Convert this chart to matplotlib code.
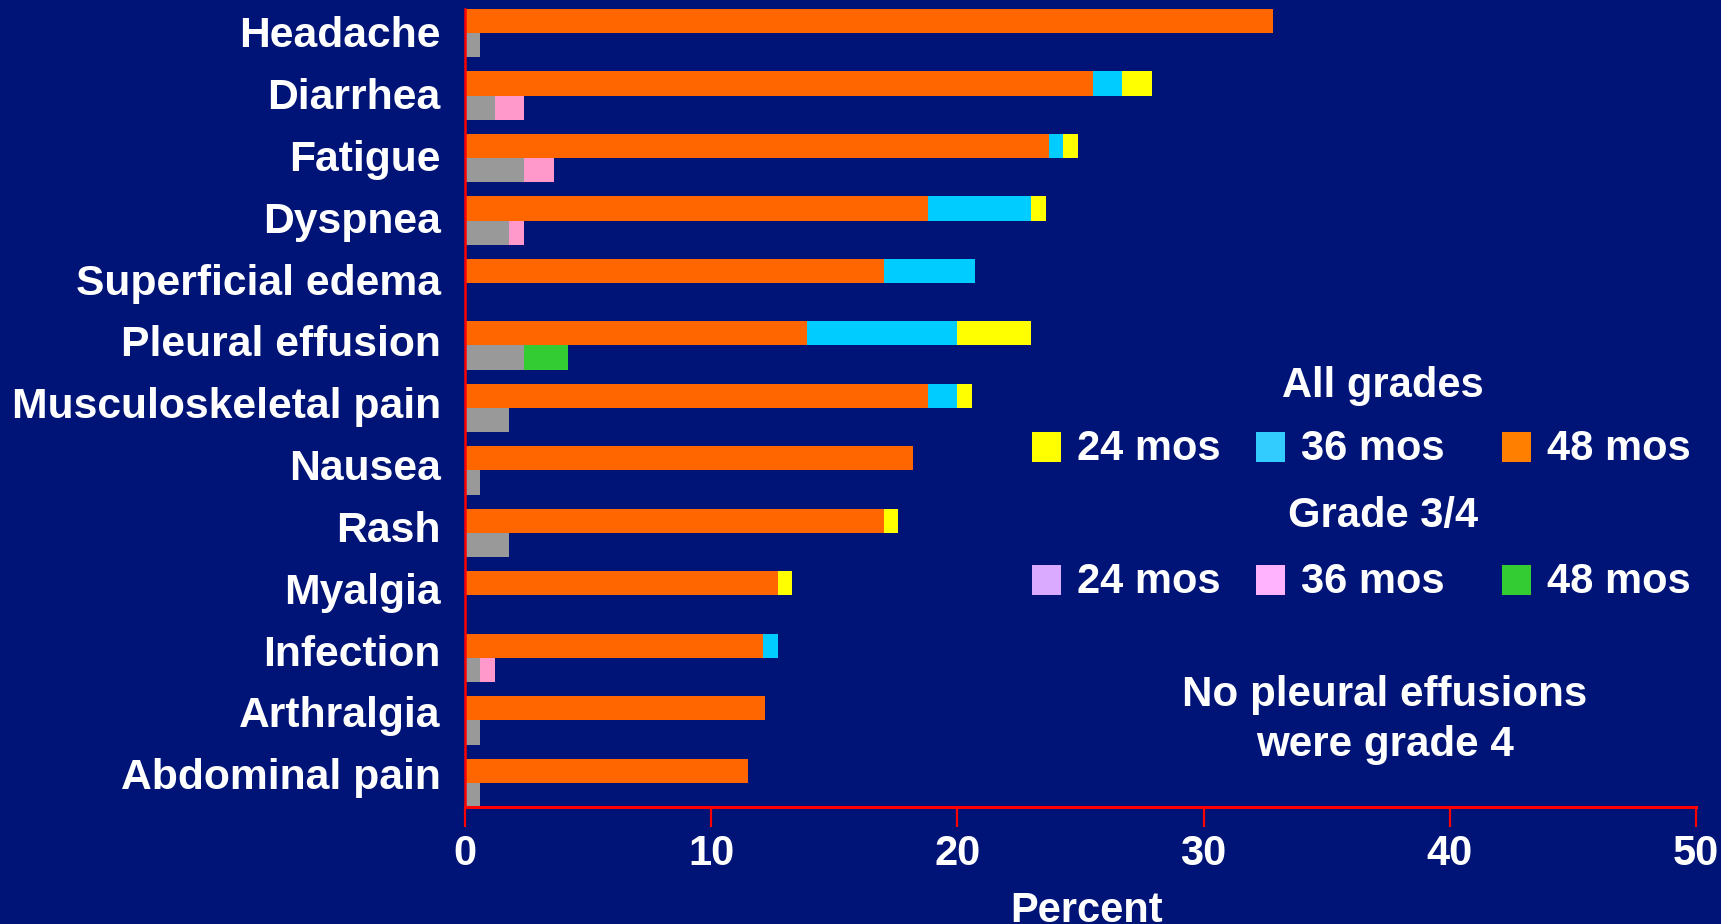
import numpy as np
import matplotlib.pyplot as plt
from matplotlib.patches import Rectangle

# adverse events, all grades (%) split into stacked pieces per follow-up
events = ["Headache", "Diarrhea", "Fatigue", "Dyspnea", "Superficial edema",
          "Pleural effusion", "Musculoskeletal pain", "Nausea", "Rash",
          "Myalgia", "Infection", "Arthralgia", "Abdominal pain"]
all_48 = [32.8, 25.5, 23.7, 18.8, 17.0, 13.9, 18.8, 18.2, 17.0, 12.7, 12.1, 12.2, 11.5]
all_36 = [0.0, 1.2, 0.6, 4.2, 3.7, 6.1, 1.2, 0.0, 0.0, 0.0, 0.6, 0.0, 0.0]
all_24 = [0.0, 1.2, 0.6, 0.6, 0.0, 3.0, 0.6, 0.0, 0.6, 0.6, 0.0, 0.0, 0.0]

# grade 3/4 (%)
g34_base = [0.6, 1.2, 2.4, 1.8, 0.0, 2.4, 1.8, 0.6, 1.8, 0.0, 0.6, 0.6, 0.6]
g34_36 = [0.0, 1.2, 1.2, 0.6, 0.0, 0.0, 0.0, 0.0, 0.0, 0.0, 0.6, 0.0, 0.0]
g34_48 = [0.0, 0.0, 0.0, 0.0, 0.0, 1.8, 0.0, 0.0, 0.0, 0.0, 0.0, 0.0, 0.0]

xticks = [0, 10, 20, 30, 40, 50]

BG = "#001377"
FONT = "Liberation Sans"

plt.rcParams['font.family'] = [FONT, 'DejaVu Sans']
plt.rcParams['font.weight'] = 'bold'

fig = plt.figure(figsize=(17.21, 9.24), dpi=100, facecolor=BG)
ax = fig.add_axes([0.2702, 0.1266, 0.7153, 0.8637], facecolor=BG)

y = np.arange(len(events))
h = 0.385

a48 = np.array(all_48)
a36 = np.array(all_36)
a24 = np.array(all_24)
ax.barh(y - h / 2, a48, height=h, color="#FF6600", linewidth=0)
ax.barh(y - h / 2, a36, left=a48, height=h, color="#00CCFF", linewidth=0)
ax.barh(y - h / 2, a24, left=a48 + a36, height=h, color="#FFFF00", linewidth=0)

gb = np.array(g34_base)
g36 = np.array(g34_36)
g48 = np.array(g34_48)
ax.barh(y + h / 2, gb, height=h, color="#999999", linewidth=0)
ax.barh(y + h / 2, g36, left=gb, height=h, color="#FF99CC", linewidth=0)
ax.barh(y + h / 2, g48, left=gb + g36, height=h, color="#33CC33", linewidth=0)

ax.set_xlim(0, 50)
ax.set_ylim(len(events) - 1 + h, -h)
# category labels sit on a slightly tighter pitch than the bar pairs
ax.set_yticks(y * 0.9894 - 0.02)
ax.set_yticklabels(events, fontsize=30.7, color="white", fontweight="bold")
ax.tick_params(axis="y", length=0, pad=17.5)
ax.set_xticks(xticks)
ax.set_xticklabels([str(t) for t in xticks], fontsize=30, color="white", fontweight="bold")
ax.tick_params(axis="x", direction="out", length=14.5, width=1.6, color="#FF0000", pad=5)

for side in ["top", "right"]:
    ax.spines[side].set_visible(False)
ax.spines["bottom"].set_color("#FF0000")
ax.spines["bottom"].set_linewidth(2.2)
ax.spines["left"].set_color("#FF0000")
ax.spines["left"].set_linewidth(1.8)

fig.text(1087 / 1721, 1 - 891 / 924, "Percent", color="white", fontsize=30,
         fontweight="bold", ha="center", va="top")

# key for the colours, laid out as two rows of swatches
def key_row(ypix, colors):
    xs = [1032, 1256, 1502]
    labels = ["24 mos", "36 mos", "48 mos"]
    for xp, c, lab in zip(xs, colors, labels):
        fig.patches.append(Rectangle((xp / 1721, 1 - (ypix + 15) / 924), 29 / 1721, 30 / 924,
                                     transform=fig.transFigure, color=c, linewidth=0))
        fig.text((xp + 45) / 1721, 1 - (ypix + 2) / 924, lab,
                 color="white", fontsize=30, fontweight="bold", ha="left", va="center")

fig.text(1383 / 1721, 1 - 386 / 924, "All grades", color="white", fontsize=30,
         fontweight="bold", ha="center", va="center")
key_row(447, ["#FFFF00", "#33CCFF", "#FF7F00"])
fig.text(1383 / 1721, 1 - 516 / 924, "Grade 3/4", color="white", fontsize=30,
         fontweight="bold", ha="center", va="center")
key_row(580, ["#D9AAFF", "#FFB3FF", "#33CC33"])

fig.text(1385 / 1721, 1 - 720 / 924, "No pleural effusions\nwere grade 4", color="white",
         fontsize=30.3, fontweight="bold", ha="center", va="center", linespacing=1.33)

fig.savefig("out.png", dpi=100, facecolor=BG)
